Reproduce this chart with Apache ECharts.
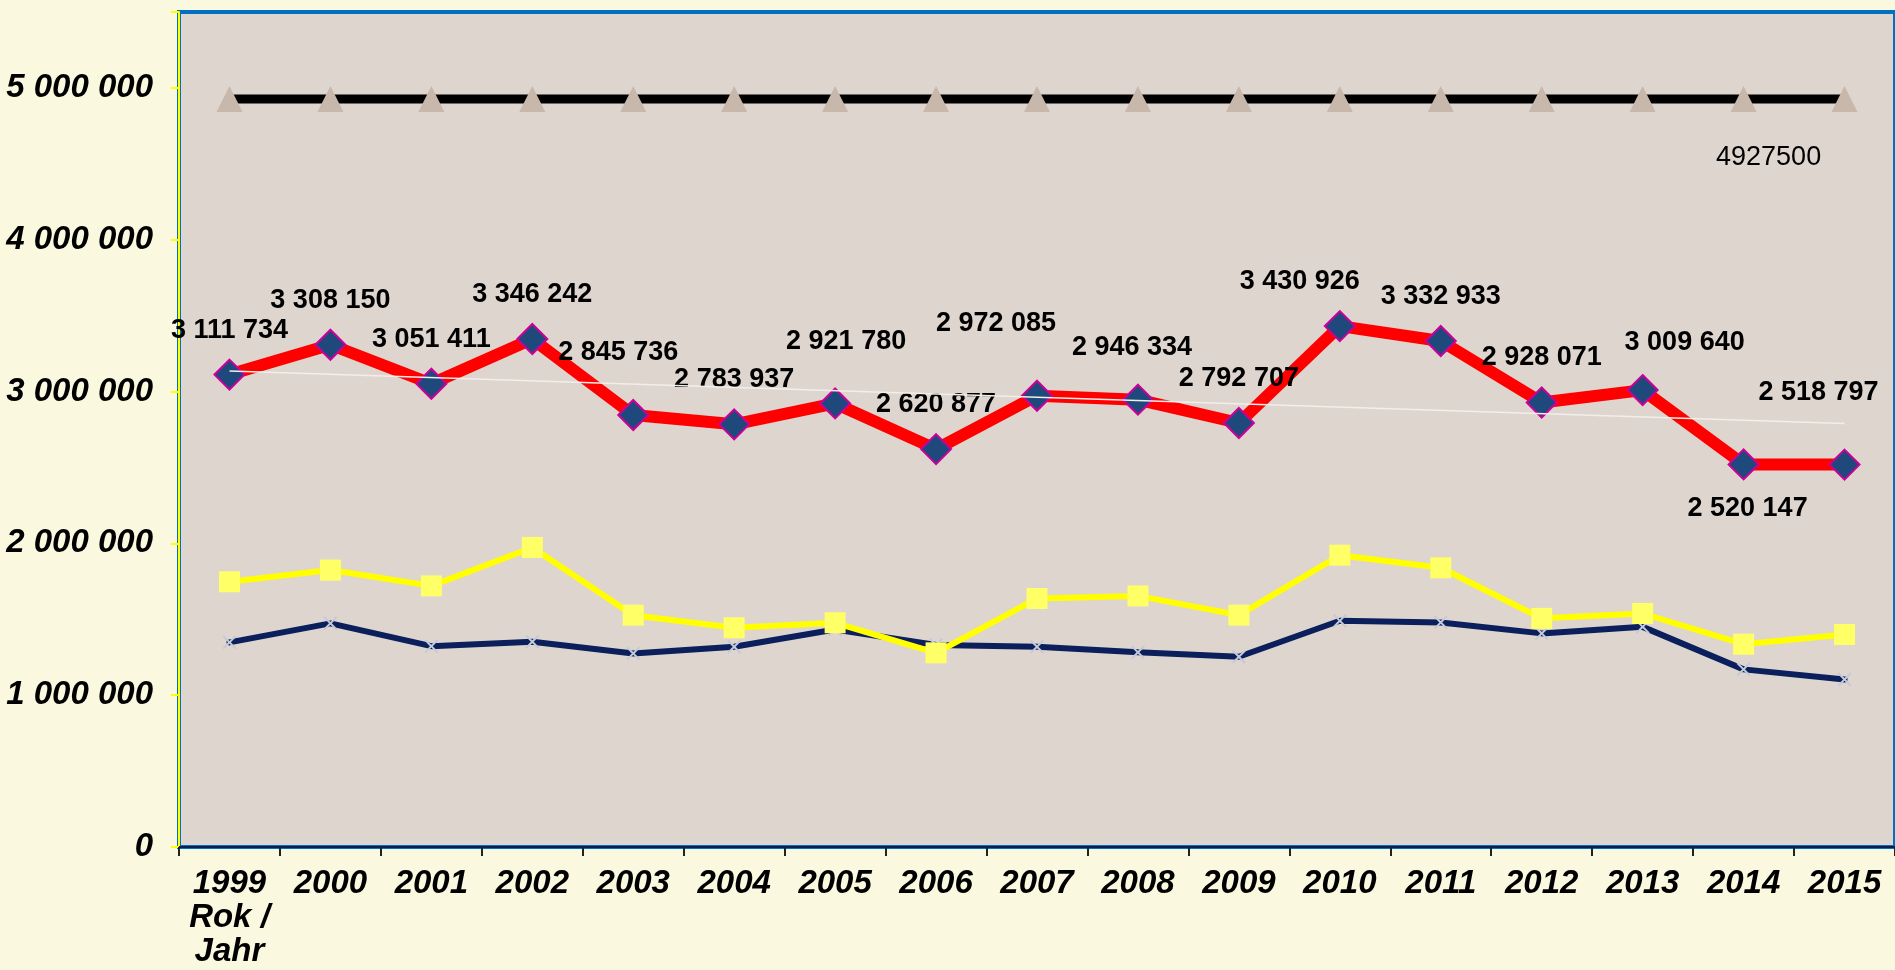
<!DOCTYPE html>
<html>
<head>
<meta charset="utf-8">
<script src="https://cdn.jsdelivr.net/npm/echarts@6/dist/echarts.min.js"></script>
<style>
  html, body { margin: 0; padding: 0; background: #FAF9DF; }
  #main { width: 1895px; height: 970px; }
</style>
</head>
<body>
<div id="main"></div>
<script>
// years on the x axis
const years = ['1999', '2000', '2001', '2002', '2003', '2004', '2005', '2006', '2007',
  '2008', '2009', '2010', '2011', '2012', '2013', '2014', '2015']
const axisTitle = 'Rok /\nJahr'

// black line (constant level)
const limitValues = [4927500, 4927500, 4927500, 4927500, 4927500, 4927500, 4927500, 4927500, 4927500,
  4927500, 4927500, 4927500, 4927500, 4927500, 4927500, 4927500, 4927500]
// red line with labels
const totalValues = [3111734, 3308150, 3051411, 3346242, 2845736, 2783937, 2921780, 2620877, 2972085,
  2946334, 2792707, 3430926, 3332933, 2928071, 3009640, 2520147, 2518797]
// yellow line
const yellowValues = [1747000, 1824000, 1720000, 1973000, 1527000, 1444000, 1477000, 1279000, 1637000,
  1654000, 1527000, 1922000, 1839000, 1506000, 1538000, 1336000, 1400000]
// navy line
const navyValues = [1348000, 1473000, 1323000, 1352000, 1275000, 1319000, 1433000, 1330000, 1319000,
  1282000, 1253000, 1490000, 1479000, 1407000, 1450000, 1170000, 1104000]
// white trend line, start and end
const trendEnds = [3136000, 2790000]

// where the red labels sit relative to the default spot
const labelOffsets = [[0, 0], [0, 0], [0, 0], [0, 0], [-15, -18], [0, 0], [11, -17], [0, 0], [-41, -28],
  [-6, -8], [0, 0], [-40, 0], [0, 0], [0, 0], [42, -3], [4, 0], [-26, -28]]

const font = "'Liberation Sans', Arial, sans-serif"

function fmt(v) {
  return String(v).replace(/\B(?=(\d{3})+(?!\d))/g, ' ')
}

var myChart = echarts.init(document.getElementById('main'))

var option = {
  animation: false,
  backgroundColor: '#FAF9DF',
  grid: {
    left: 179,
    top: 12,
    right: -9,
    bottom: 123,
    show: true,
    backgroundColor: '#DFD5CF',
    borderColor: '#0070C0',
    borderWidth: 4
  },
  xAxis: {
    type: 'category',
    data: years,
    boundaryGap: true,
    axisLine: { show: true, lineStyle: { color: '#0B1E50', width: 2 } },
    axisTick: { show: true, interval: 0, length: 9, lineStyle: { color: '#222', width: 2 } },
    axisLabel: {
      interval: 0,
      hideOverlap: false,
      margin: 20,
      color: '#000',
      fontSize: 33,
      fontWeight: 'bold',
      fontStyle: 'italic',
      fontFamily: font,
      lineHeight: 34,
      formatter: function(v, i) {
        return i === 0 ? v + '\n' + axisTitle : v
      }
    },
    splitLine: { show: false }
  },
  yAxis: {
    type: 'value',
    min: 0,
    max: 5500000,
    interval: 1000000,
    axisLine: { show: true, lineStyle: { color: '#FFFF00', width: 2 } },
    axisTick: { show: true, length: 8, lineStyle: { color: '#FFFF00', width: 2 } },
    axisLabel: {
      margin: 26,
      color: '#000',
      fontSize: 33,
      fontWeight: 'bold',
      fontStyle: 'italic',
      fontFamily: font,
      formatter: function(v) {
        return v % 1000000 === 0 ? fmt(v) : ''
      }
    },
    splitLine: { show: false }
  },
  series: [
    {
      type: 'line',
      data: limitValues.map((v, i) => i === 15 ? { value: v, label: { show: true } } : v),
      symbol: 'triangle',
      symbolSize: 26,
      itemStyle: { color: '#C8B7AB' },
      lineStyle: { color: '#000', width: 9 },
      label: {
        show: false,
        position: 'inside',
        offset: [25, 59],
        formatter: '{c}',
        color: '#000',
        fontSize: 27,
        fontFamily: font
      },
      z: 2
    },
    {
      type: 'line',
      data: navyValues,
      symbol: 'path://M0,1 L1,0 L5,4 L9,0 L10,1 L6,5 L10,9 L9,10 L5,6 L1,10 L0,9 L4,5 Z',
      symbolSize: 14,
      itemStyle: { color: '#C4CAD8' },
      lineStyle: { color: '#0A1F5C', width: 6, cap: 'round' },
      z: 2
    },
    {
      type: 'line',
      data: yellowValues,
      symbol: 'rect',
      symbolSize: 21,
      itemStyle: { color: '#FFFF66' },
      lineStyle: { color: '#FFFF00', width: 6 },
      z: 3
    },
    {
      type: 'line',
      data: totalValues.map((v, i) => ({
        value: v,
        label: { offset: labelOffsets[i], position: i === 15 ? 'bottom' : 'top' }
      })),
      symbol: 'diamond',
      symbolSize: 30,
      itemStyle: { color: '#1F497D', borderColor: '#CC0099', borderWidth: 2 },
      lineStyle: { color: '#FF0000', width: 12 },
      label: {
        show: true,
        distance: 15,
        formatter: p => fmt(p.value),
        color: '#000',
        fontSize: 27,
        fontWeight: 'bold',
        fontFamily: font
      },
      z: 4
    },
    {
      type: 'line',
      data: [[years[0], trendEnds[0]], [years[16], trendEnds[1]]],
      symbol: 'none',
      lineStyle: { color: '#F2EEEA', width: 1.5 },
      z: 5
    }
  ]
}

myChart.setOption(option)
</script>
</body>
</html>
